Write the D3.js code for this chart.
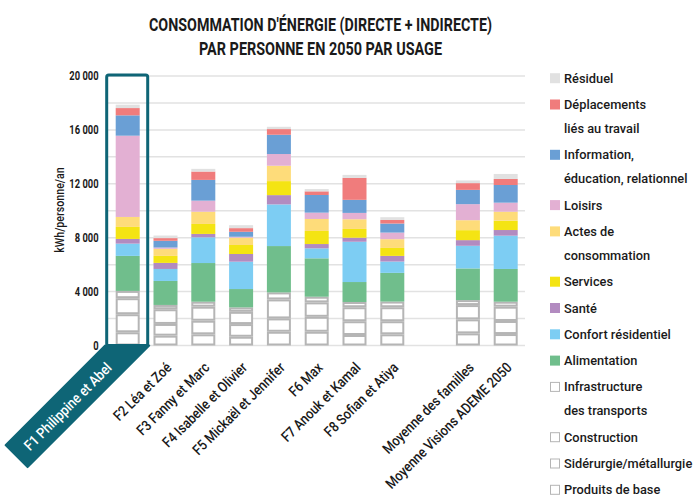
<!DOCTYPE html>
<html>
<head>
<meta charset="utf-8">
<script src="https://cdn.jsdelivr.net/npm/d3@7"></script>
<style>
  html, body { margin: 0; padding: 0; background: #ffffff; }
  svg { display: block; }
  text { font-family: "Roboto", "Liberation Sans", sans-serif; fill: #1a1a1a; font-weight: 500; }
</style>
</head>
<body>
<svg id="chart" width="697" height="496"></svg>
<script>
// ---------- DATA ----------
const categories = ["F1 Philippine et Abel", "F2 Léa et Zoé", "F3 Fanny et Marc", "F4 Isabelle et Olivier",
  "F5 Mickaël et Jennifer", "F6 Max", "F7 Anouk et Kamal", "F8 Sofian et Atiya",
  "Moyenne des familles", "Moyenne Visions ADEME 2050"];
const slots = ["F1 Philippine et Abel", "F2 Léa et Zoé", "F3 Fanny et Marc", "F4 Isabelle et Olivier",
  "F5 Mickaël et Jennifer", "F6 Max", "F7 Anouk et Kamal", "F8 Sofian et Atiya", "__gap__",
  "Moyenne des familles", "Moyenne Visions ADEME 2050"];

// values in kWh/personne/an, bottom to top
const produitsBase   = [980, 730, 830, 650, 1020, 1020, 780, 830, 900, 850];
const siderurgie     = [1340, 870, 1010, 940, 990, 1110, 1020, 970, 1040, 970];
const construction   = [1190, 1090, 1040, 910, 1410, 1070, 1040, 1040, 1060, 1060];
const infraTransports= [540, 320, 370, 330, 520, 420, 390, 420, 370, 370];
const alimentation   = [2600, 1780, 2870, 1360, 3440, 2850, 1480, 2130, 2350, 2430];
const confort        = [910, 890, 1910, 2030, 3090, 740, 2990, 840, 1680, 2470];
const sante          = [350, 450, 250, 570, 690, 320, 300, 420, 420, 420];
const services       = [890, 520, 740, 670, 1040, 970, 650, 590, 740, 690];
const actes          = [740, 520, 910, 540, 1140, 890, 720, 650, 740, 670];
const loisirs        = [6030, 100, 820, 70, 870, 470, 470, 490, 1190, 670];
const information    = [1510, 500, 1540, 370, 1430, 1310, 970, 670, 1060, 1310];
const deplacements   = [540, 200, 620, 270, 420, 270, 1630, 270, 500, 450];
const residuel       = [250, 190, 200, 220, 170, 170, 220, 200, 200, 370];

const seriesKeys = ["produitsBase", "siderurgie", "construction", "infraTransports", "alimentation",
  "confort", "sante", "services", "actes", "loisirs", "information", "deplacements", "residuel"];
const seriesValues = { produitsBase, siderurgie, construction, infraTransports, alimentation,
  confort, sante, services, actes, loisirs, information, deplacements, residuel };
const seriesColors = ["#ffffff", "#ffffff", "#ffffff", "#ffffff", "#70be8c",
  "#7dcdf3", "#b28bc0", "#f4e413", "#fedc7a", "#e3b0d3", "#6a9fd5", "#f07c7c", "#e1e1e1"];
const hollow = [true, true, true, true, false, false, false, false, false, false, false, false, false];

// legend (top to bottom)
const legendLabels = [
  ["Résiduel"], ["Déplacements", "liés au travail"], ["Information,", "éducation, relationnel"],
  ["Loisirs"], ["Actes de", "consommation"], ["Services"], ["Santé"], ["Confort résidentiel"],
  ["Alimentation"], ["Infrastructure", "des transports"], ["Construction"],
  ["Sidérurgie/métallurgie"], ["Produits de base"]];
const legendSeries = ["residuel", "deplacements", "information", "loisirs", "actes", "services", "sante",
  "confort", "alimentation", "infraTransports", "construction", "siderurgie", "produitsBase"];

const yTicks = [0, 4000, 8000, 12000, 16000, 20000];
const yGrid = [0, 2000, 4000, 6000, 8000, 10000, 12000, 14000, 16000, 18000, 20000];
const titleLines = ["CONSOMMATION D'ÉNERGIE (DIRECTE + INDIRECTE)", "PAR PERSONNE EN 2050 PAR USAGE"];
const yAxisTitle = "kWh/personne/an";
const highlighted = "F1 Philippine et Abel";

// ---------- CHART ----------
const svg = d3.select("#chart");
const teal = "#0e6576";

const x = d3.scaleBand().domain(slots).range([108.8, 524.6]).paddingInner(0.365).paddingOuter(0.1825);
const y = d3.scaleLinear().domain([0, 20000]).range([345.5, 76]);

// title
svg.selectAll("text.title").data(titleLines).join("text")
  .attr("class", "title")
  .attr("x", 320.5).attr("y", (d, i) => 31 + i * 24)
  .attr("text-anchor", "middle")
  .attr("font-size", 18).style("font-weight", 700)
  .attr("textLength", (d, i) => i === 0 ? 343 : 243)
  .attr("lengthAdjust", "spacingAndGlyphs")
  .text(d => d);

// grid
svg.append("g").selectAll("line").data(yGrid).join("line")
  .attr("x1", 108).attr("x2", 525)
  .attr("y1", d => y(d)).attr("y2", d => y(d))
  .attr("stroke", "#e2e2e2").attr("stroke-width", 1.5);

// y axis ticks (labels only)
const yAxis = d3.axisLeft(y).tickValues(yTicks).tickSize(0).tickPadding(0)
  .tickFormat(d => d3.format(",")(d).replace(/,/g, " "));
const gy = svg.append("g").attr("transform", "translate(98.5,0)").call(yAxis);
gy.select(".domain").remove();
gy.selectAll("text").attr("font-size", 12).attr("x", 0)
  .attr("transform", "scale(0.78,1)")
  .style("font-family", '"Roboto", sans-serif').style("font-weight", 700).attr("fill", "#1a1a1a");

svg.append("text")
  .attr("transform", "translate(64,210) rotate(-90) scale(0.82,1)")
  .attr("text-anchor", "middle").attr("font-size", 13)
  .text(yAxisTitle);

// stacked bars
const rows = categories.map((c, i) => {
  const r = { cat: c };
  seriesKeys.forEach(k => r[k] = seriesValues[k][i]);
  return r;
});
const stack = d3.stack().keys(seriesKeys)(rows);

const gBars = svg.append("g");
stack.forEach((layer, li) => {
  const g = gBars.append("g");
  g.selectAll("rect").data(layer).join("rect")
    .attr("x", d => x(d.data.cat) + (hollow[li] ? 1 : 0))
    .attr("width", x.bandwidth() - (hollow[li] ? 2 : 0))
    .attr("y", d => y(d[1]) + (hollow[li] ? 1 : 0))
    .attr("height", d => Math.max(0, y(d[0]) - y(d[1]) - (hollow[li] ? 2 : 0)))
    .attr("fill", seriesColors[li])
    .attr("stroke", hollow[li] ? "#b5b5b5" : "none")
    .attr("stroke-width", hollow[li] ? 2 : 0);
});

// highlight box around F1
const hx0 = x(highlighted) - 9, hx1 = x(highlighted) + x.bandwidth() + 8;
svg.append("rect")
  .attr("x", hx0).attr("y", y(20000) - 1)
  .attr("width", hx1 - hx0).attr("height", y(0) - y(20000) + 1)
  .attr("rx", 2).attr("fill", "none").attr("stroke", teal).attr("stroke-width", 3);

// highlight ribbon label
const by = y(0);
const L = 172, w = hx1 - hx0;
const d = 0.7071;
const ribbon = d3.path();
ribbon.moveTo(hx0 - 1.5, by);
ribbon.lineTo(hx1 + 1.5, by);
ribbon.lineTo(hx1 + 1.5 - L * d, by + L * d);
ribbon.lineTo(hx1 + 1.5 - L * d - (w + 3) * d * d, by + L * d - (w + 3) * d * d);
ribbon.closePath();
svg.append("path").attr("d", ribbon.toString()).attr("fill", teal)
  .attr("stroke", teal).attr("stroke-width", 2).attr("stroke-linejoin", "round");

// x labels
const xl = svg.append("g");
slots.forEach(s => {
  if (s === "__gap__") return;
  const cx = x(s) + x.bandwidth() / 2;
  if (s === highlighted) {
    xl.append("text")
      .attr("transform", `translate(${cx - 60},${by + 61}) rotate(-45) scale(0.88,1)`)
      .attr("text-anchor", "middle").attr("dy", "0.35em")
      .attr("font-size", 14.5).style("fill", "#ffffff")
      .text(s);
  } else {
    xl.append("text")
      .attr("transform", `translate(${cx + 7},${by + 23}) rotate(-45) scale(0.86,1)`)
      .attr("text-anchor", "end")
      .attr("font-size", 14.5)
      .text(s);
  }
});

// legend
const lg = svg.append("g");
let ly = 82.7;
legendLabels.forEach((lines, i) => {
  const li = seriesKeys.indexOf(legendSeries[i]);
  lg.append("rect")
    .attr("x", hollow[li] ? 550.5 : 550).attr("y", hollow[li] ? ly - 9 : ly - 9.5)
    .attr("width", hollow[li] ? 9 : 10).attr("height", hollow[li] ? 9 : 10)
    .attr("fill", seriesColors[li])
    .attr("stroke", hollow[li] ? "#b5b5b5" : "none").attr("stroke-width", 1);
  lines.forEach((t, j) => {
    lg.append("text")
      .attr("transform", `translate(564,${ly + j * 24}) scale(0.95,1)`)
      .attr("font-size", 13.5).text(t);
  });
  ly += 26.3 + 24 * (lines.length - 1);
});
</script>
</body>
</html>
